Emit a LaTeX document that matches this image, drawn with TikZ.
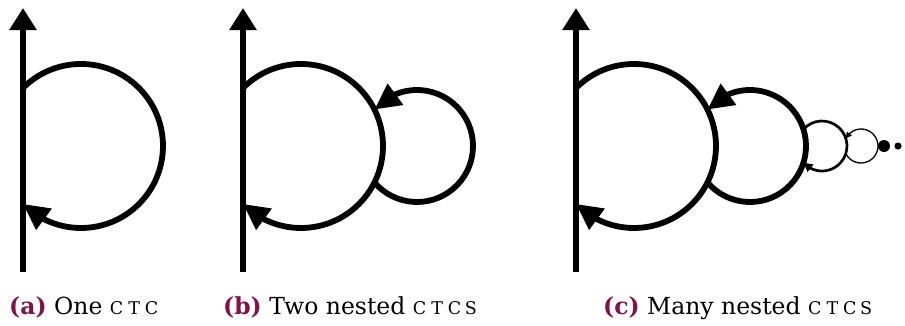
\documentclass[tikz,border=0pt]{standalone}
\usepackage{fontspec}
\setmainfont{DejaVu Serif}
\usetikzlibrary{arrows.meta,bending,calc}
\definecolor{subcap}{RGB}{128,20,72}
% letter-spaced small capitals for the acronym
\newcommand\smcap[1]{{\fontsize{17.5}{17.5}\selectfont #1}}
\newcommand\ctcone{\smcap{C\kern5pt T\kern5pt C}}
\newcommand\ctcmany{\smcap{C\kern5pt T\kern5pt C\kern3.5pt S}}
\newcommand\sublabel[1]{\textbf{\color{subcap}(#1)}}

\begin{document}
\begin{tikzpicture}[x=1pt,y=1pt,
  worldline/.style={line width=5.8pt,-{Triangle[length=22pt,width=26pt]}},
  bigloop/.style={line width=5.8pt,-{Triangle[length=26pt,width=25pt]}},
  midloop/.style={line width=2.7pt,-{Triangle[length=9pt,width=9pt]}},
  tinyloop/.style={line width=1.3pt,-{Triangle[length=6pt,width=6pt]}},
  subcaption/.style={anchor=base west,inner sep=0pt,font=\fontsize{23.5}{23.5}\selectfont}]
\useasboundingbox (0,0) rectangle (905,325);

% ---- (a) one closed timelike curve
\begin{scope}[xshift=23pt]
  \coordinate (a-bot) at (0,53);
  \coordinate (a-top) at (0,317);
  \coordinate (a-in)  at (0,237);
  \draw[worldline] (a-bot) -- (a-top);
  \draw[bigloop] (a-in) arc[start angle=135,end angle=-135,radius=82];
\end{scope}

% ---- (b) two nested curves
\begin{scope}[xshift=243pt]
  \coordinate (b-bot) at (0,53);
  \coordinate (b-top) at (0,317);
  \coordinate (b-in)  at (0,237);
  \coordinate (b-c2)  at (174,179);
  \draw[worldline] (b-bot) -- (b-top);
  \draw[bigloop] (b-in) arc[start angle=135,end angle=-135,radius=82];
  \draw[bigloop] ($(b-c2)+(-139.4:56)$) arc[start angle=-139.4,end angle=139.4,radius=56];
\end{scope}

% ---- (c) many nested curves
\begin{scope}[xshift=576pt]
  \coordinate (c-bot) at (0,53);
  \coordinate (c-top) at (0,317);
  \coordinate (c-in)  at (0,237);
  \coordinate (c-c2)  at (174,179);
  \coordinate (c-c3)  at (246,179);
  \coordinate (c-c4)  at (285,179);
  \draw[worldline] (c-bot) -- (c-top);
  \draw[bigloop] (c-in) arc[start angle=135,end angle=-135,radius=82];
  \draw[bigloop] ($(c-c2)+(-139.4:56)$) arc[start angle=-139.4,end angle=139.4,radius=56];
  \draw[midloop] ($(c-c3)+(138.1:25)$) arc[start angle=138.1,end angle=-138.1,radius=25];
  \draw[tinyloop] ($(c-c4)+(-153.4:17)$) arc[start angle=-153.4,end angle=153.4,radius=17];
  \fill (308,179) circle[radius=6];
  \fill (322,179) circle[radius=3.6];
\end{scope}

% ---- sub-captions
\node[subcaption] (cap-a) at (9,11)   {\sublabel{a} One \ctcone};
\node[subcaption] (cap-b) at (223,11) {\sublabel{b} Two nested \ctcmany};
\node[subcaption] (cap-c) at (603,11) {\sublabel{c} Many nested \ctcmany};
\end{tikzpicture}
\end{document}
